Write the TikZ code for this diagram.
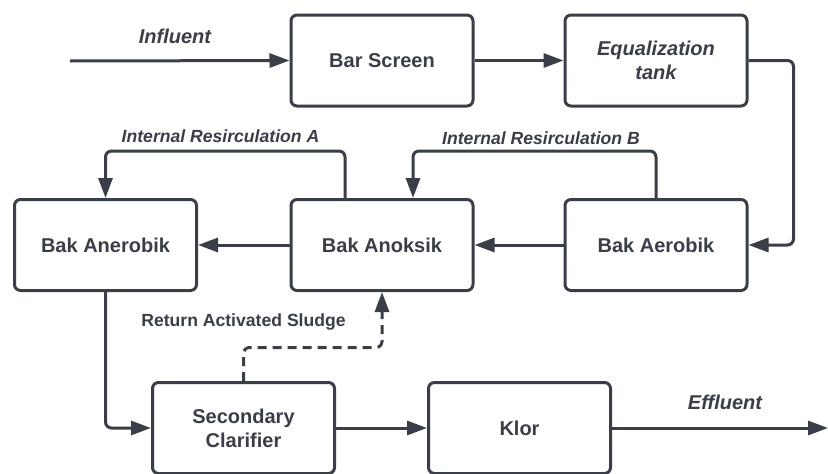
\documentclass[tikz,border=0pt]{standalone}
\usepackage{fontspec}
\setmainfont{Liberation Sans}
\usetikzlibrary{arrows.meta}
\definecolor{ink}{RGB}{58,62,72}
\tikzset{
  unit/.style={draw=ink, line width=3pt, rounded corners=6pt, fill=white,
    minimum width=182pt, minimum height=91pt, align=center, text=ink,
    font=\fontsize{20}{24}\selectfont\bfseries, inner sep=0pt},
  flow/.style={draw=ink, line width=3pt, rounded corners=6pt,
    -{Triangle[length=20pt,width=14pt]}},
  ret/.style={flow, dash pattern=on 9pt off 6pt},
  biglabel/.style={text=ink, font=\fontsize{20}{24}\selectfont\bfseries\itshape},
  smalllabel/.style={text=ink, font=\fontsize{17.6}{21}\selectfont\bfseries\itshape},
  sludgelabel/.style={text=ink, font=\fontsize{17.6}{21}\selectfont\bfseries}
}
\begin{document}
\begin{tikzpicture}[x=1pt, y=-1pt]
  \useasboundingbox[fill=white] (0,0) rectangle (828,474);

  % process units
  \node[unit] (bar) at (382,60.5) {Bar Screen};
  \node[unit] (eq)  at (656,60.5) {\itshape Equalization\\\itshape tank};
  \node[unit] (ane) at (105.5,245) {Bak Anerobik};
  \node[unit] (ano) at (382,245) {Bak Anoksik};
  \node[unit] (aer) at (656,245) {Bak Aerobik};
  \node[unit] (sec) at (243.5,428) {Secondary\\Clarifier};
  \node[unit] (klor) at (519.5,428) {Klor};

  % free ends of inlet and outlet
  \coordinate (inlet) at (70,61);
  \coordinate (outlet) at (828,428);

  % main flow
  \draw[flow] (inlet) -- (bar.west);
  \draw[flow] (bar.east) -- (eq.west);
  \draw[flow] (eq.east) -- ++(45,0) |- (aer.east);
  \draw[flow] (aer.west) -- (ano.east);
  \draw[flow] (ano.west) -- (ane.east);
  \draw[flow] (ane.south) |- (sec.west);
  \draw[flow] (sec.east) -- (klor.west);
  \draw[flow] (klor.east) -- (outlet);

  % internal recirculation loops
  \draw[flow] ([xshift=-37pt]ano.north) -- ++(0,-47) -| (ane.north);
  \draw[flow] (aer.north) -- ++(0,-47) -| ([xshift=31pt]ano.north);

  % sludge return
  \draw[ret] (sec.north) -- ++(0,-33.5) -| (ano.south);

  % labels
  \node[biglabel] (linf) at (175,36) {Influent};
  \node[biglabel] (leff) at (725,402) {Effluent};
  \node[smalllabel] (lra) at (220.5,136) {Internal Resirculation A};
  \node[smalllabel] (lrb) at (541,138) {Internal Resirculation B};
  \node[sludgelabel] (lras) at (243.5,322) {Return Activated Sludge};
\end{tikzpicture}
\end{document}
